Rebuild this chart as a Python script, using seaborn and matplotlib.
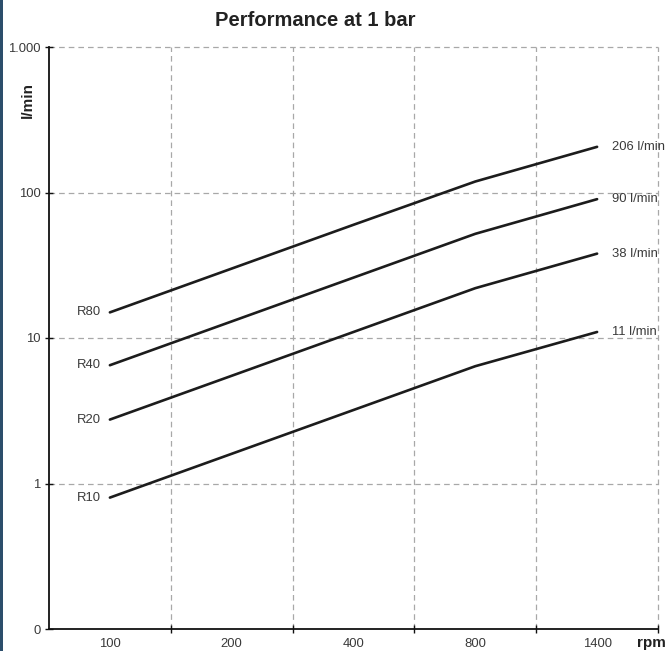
import matplotlib
matplotlib.use("Agg")
import matplotlib.pyplot as plt
from matplotlib.font_manager import FontProperties
from matplotlib.patches import Rectangle
import pandas as pd
import seaborn as sns

# Flow rate (l/min) per pump model at each speed step
rpm_steps = ["100", "200", "400", "800", "1400"]
r10 = [0.8, 1.6, 3.2, 6.4, 11]
r20 = [2.75, 5.5, 11, 22, 38]
r40 = [6.5, 13, 26, 52, 90]
r80 = [15, 30, 60, 119, 206]
models = ["R10", "R20", "R40", "R80"]
end_labels = ["11 l/min", "38 l/min", "90 l/min", "206 l/min"]
y_ticks = [0.1, 1, 10, 100, 1000]
y_tick_labels = ["0", "1", "10", "100", "1.000"]

sns.set_theme(style="white")
plt.rcParams["font.family"] = ["Liberation Sans", "DejaVu Sans"]

small_font = dict(family=["Liberation Sans", "DejaVu Sans"], size=9.4)

series = dict(zip(models, [r10, r20, r40, r80]))
df = pd.DataFrame(
    [(m, rpm, v) for m, vals in series.items() for rpm, v in zip(rpm_steps, vals)],
    columns=["model", "rpm", "flow"],
)

fig = plt.figure(figsize=(6.67, 6.51), dpi=100)
ax = fig.add_axes([49 / 667, 22 / 651, 609 / 667, 582 / 651])

sns.lineplot(
    data=df, x="rpm", y="flow", hue="model", hue_order=models,
    palette=["#1c1c1c"] * 4, linewidth=1.9, legend=False, ax=ax, sort=False,
)

ax.set_yscale("log")
ax.set_ylim(0.1, 1000)
ax.set_xlim(-0.5, len(rpm_steps) - 0.5)

grid_kw = dict(color="#a8a8a8", linewidth=0.9, linestyle=(0, (4.5, 3.2)), zorder=0, clip_on=False)
for yv in y_ticks[1:]:
    ax.axhline(yv, **grid_kw)
for i in range(len(rpm_steps)):
    ax.axvline(i + 0.5, **grid_kw)

# spines
for s in ["top", "right"]:
    ax.spines[s].set_visible(False)
for s in ["left", "bottom"]:
    ax.spines[s].set_color("#111111")
    ax.spines[s].set_linewidth(1.3)

# y axis ticks
ax.set_yticks(y_ticks)
ax.set_yticklabels(y_tick_labels)
ax.yaxis.set_minor_locator(matplotlib.ticker.NullLocator())
ax.tick_params(axis="y", which="major", direction="inout", length=6, width=1.0,
               color="#111111", left=True, pad=3, labelcolor="#3a3a3a")

# x axis: ticks at band boundaries, labels at band centres
ax.set_xticks([i + 0.5 for i in range(len(rpm_steps))])
ax.set_xticklabels([])
ax.set_xticks(range(len(rpm_steps)), minor=True)
ax.set_xticklabels(rpm_steps, minor=True)
ax.tick_params(axis="x", which="major", direction="inout", length=6, width=1.0,
               color="#111111", bottom=True)
ax.tick_params(axis="x", which="minor", length=0, pad=6.5, labelcolor="#3a3a3a")
for lab in ax.get_xticklabels(minor=True) + ax.get_yticklabels():
    lab.set_fontproperties(FontProperties(**small_font))

ax.set_xlabel("")
ax.set_ylabel("")

# series labels
for m, lab in zip(models, end_labels):
    vals = series[m]
    ax.text(-0.07, vals[0], m, ha="right", va="center", color="#3a3a3a",
            fontproperties=FontProperties(**small_font))
    ax.text(len(rpm_steps) - 1 + 0.12, vals[-1], lab, ha="left", va="center",
            color="#3a3a3a", clip_on=False, fontproperties=FontProperties(**small_font))

fig.text(315 / 667, 1 - 21 / 651, "Performance at 1 bar", ha="center", va="center",
         fontsize=14.5, fontweight="bold", color="#222222")
fig.text(28 / 667, 1 - 100 / 651, "l/min", ha="center", va="center", rotation=90,
         fontsize=11, fontweight="bold", color="#222222")
fig.text(651 / 667, 1 - 643 / 651, "rpm", ha="center", va="center",
         fontsize=11, fontweight="bold", color="#222222")

# accent bar on the left edge
fig.patches.append(Rectangle((0, 0), 3 / 667, 1, transform=fig.transFigure,
                             facecolor="#2c4e6b", edgecolor="none", zorder=5))

fig.savefig("out.png", dpi=100)
